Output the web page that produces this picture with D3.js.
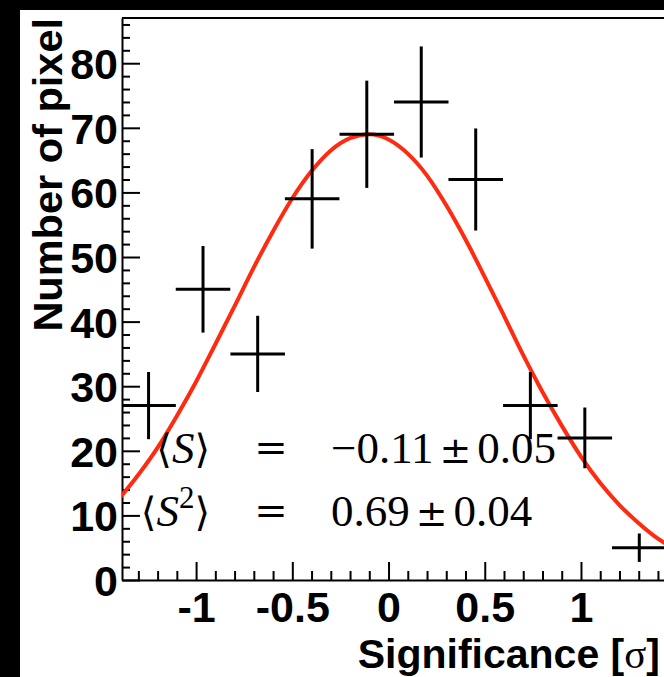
<!DOCTYPE html>
<html>
<head>
<meta charset="utf-8">
<script src="https://cdn.jsdelivr.net/npm/d3@7"></script>
<style>
	html, body { margin: 0; padding: 0; background: #000; }
	svg { display: block; }
</style>
</head>
<body>
<div id="chart"></div>
<script>
	// histogram bins (centres, half width), counts and errors
	var binCentres = [-1.247, -0.964, -0.680, -0.397, -0.113, 0.170, 0.453, 0.737, 1.020, 1.303];
	var binHalfWidth = 0.1417;
	var counts = [27, 45, 35, 59, 69, 74, 62, 27, 22, 5];
	var countErrors = [5.2, 6.7, 5.9, 7.7, 8.3, 8.6, 7.9, 5.2, 4.7, 2.2];

	// fitted curve
	var curveX = [-1.4, -1.3, -1.2, -1.1, -1.0, -0.9, -0.8, -0.7, -0.6, -0.5, -0.4, -0.3, -0.2, -0.1,
		0.0, 0.1, 0.2, 0.3, 0.4, 0.5, 0.6, 0.7, 0.8, 0.9, 1.0, 1.1, 1.2, 1.3, 1.4, 1.5];
	var curveY = [12.6, 16.3, 20.5, 25.4, 30.7, 36.5, 42.4, 48.4, 54.0, 59.1, 63.3, 66.5, 68.4, 69.0,
		68.2, 66.0, 62.6, 58.0, 52.7, 46.9, 40.9, 34.8, 29.1, 23.9, 19.1, 15.0, 11.6, 8.8, 6.4, 4.6];

	var xMajorTicks = [-1, -0.5, 0, 0.5, 1];
	var xTickLabels = ["-1", "-0.5", "0", "0.5", "1"];
	var yMajorTicks = [0, 10, 20, 30, 40, 50, 60, 70, 80];

	// fit results printed on the plot
	var fitRows = [
		{ name: "S", power: null, value: "−0.11", error: "0.05" },
		{ name: "S", power: "2", value: "0.69", error: "0.04" }
	];

	var width = 664, height = 677;
	var plot = { left: 122, top: 18, right: 667, bottom: 580 };

	var svg = d3.select("#chart").append("svg")
		.attr("width", width)
		.attr("height", height);

	// white pad on the black canvas
	svg.append("rect")
		.attr("x", 20).attr("y", 10)
		.attr("width", width - 20).attr("height", height - 10)
		.attr("fill", "#fff");

	var x = d3.scaleLinear().domain([-1.385, 1.447]).range([plot.left, plot.right]);
	var y = d3.scaleLinear().domain([0, 87]).range([plot.bottom, plot.top]);

	svg.append("clipPath").attr("id", "clip")
		.append("rect")
		.attr("x", plot.left).attr("y", plot.top)
		.attr("width", plot.right - plot.left).attr("height", plot.bottom - plot.top);

	var labelFont = "'Liberation Sans', Arial, Helvetica, sans-serif";
	var mathFont = "'Liberation Serif', 'DejaVu Serif', serif";

	// minor ticks
	var xMinor = d3.range(-13, 15).map(function(d) { return d / 10; })
		.filter(function(d) { return Math.abs(d * 2 - Math.round(d * 2)) > 1e-6; });
	var yMinor = d3.range(0, 88, 2).filter(function(d) { return d % 10 !== 0; });

	svg.append("g")
		.attr("transform", "translate(0," + plot.bottom + ")")
		.call(d3.axisBottom(x).tickValues(xMinor).tickSize(-9).tickFormat(""))
		.call(function(g) { g.select(".domain").remove(); });

	svg.append("g")
		.attr("transform", "translate(" + plot.left + ",0)")
		.call(d3.axisLeft(y).tickValues(yMinor).tickSize(-8).tickFormat(""))
		.call(function(g) { g.select(".domain").remove(); });

	var xAxis = svg.append("g")
		.attr("class", "x-axis")
		.attr("transform", "translate(0," + plot.bottom + ")")
		.call(d3.axisBottom(x).tickValues(xMajorTicks).tickSize(-18).tickSizeOuter(0)
			.tickFormat(function(d, i) { return xTickLabels[i]; }));

	xAxis.selectAll("text")
		.attr("y", 42)
		.attr("dy", 0)
		.style("font-family", labelFont)
		.style("font-weight", "bold")
		.style("font-size", "43px")
		.attr("fill", "#000");

	var yAxis = svg.append("g")
		.attr("class", "y-axis")
		.attr("transform", "translate(" + plot.left + ",0)")
		.call(d3.axisLeft(y).tickValues(yMajorTicks).tickSize(-18).tickSizeOuter(0));

	yAxis.selectAll("text")
		.attr("x", -4)
		.attr("dy", "0.36em")
		.style("font-family", labelFont)
		.style("font-weight", "bold")
		.style("font-size", "43px")
		.attr("fill", "#000");

	svg.selectAll(".tick line").attr("stroke", "#000").attr("stroke-width", 2);
	svg.selectAll(".domain").attr("stroke", "#000").attr("stroke-width", 2);

	// top frame line
	svg.append("line")
		.attr("x1", plot.left).attr("x2", plot.right)
		.attr("y1", plot.top).attr("y2", plot.top)
		.attr("stroke", "#000").attr("stroke-width", 2);

	// axis titles
	svg.append("text")
		.attr("transform", "translate(62," + plot.top + ") rotate(-90)")
		.attr("text-anchor", "end")
		.style("font-family", labelFont)
		.style("font-weight", "bold")
		.style("font-size", "41.5px")
		.text("Number of pixel");

	var xTitle = svg.append("text")
		.attr("x", 660).attr("y", 668)
		.attr("text-anchor", "end")
		.style("font-family", labelFont)
		.style("font-weight", "bold")
		.style("font-size", "41px");
	xTitle.append("tspan").text("Significance [");
	xTitle.append("tspan").style("font-family", mathFont)
		.style("font-weight", "normal").text("σ");
	xTitle.append("tspan").text("]");

	var inner = svg.append("g").attr("clip-path", "url(#clip)");

	// fit curve
	var line = d3.line()
		.x(function(d, i) { return x(curveX[i]); })
		.y(function(d) { return y(d); })
		.curve(d3.curveMonotoneX);

	inner.append("path")
		.datum(curveY)
		.attr("d", line)
		.attr("fill", "none")
		.attr("stroke", "#ff2a10")
		.attr("stroke-width", 4);

	// data crosses
	var points = inner.selectAll(".point")
		.data(counts)
		.enter().append("g")
		.attr("class", "point");

	points.append("line")
		.attr("x1", function(d, i) { return x(binCentres[i] - binHalfWidth); })
		.attr("x2", function(d, i) { return x(binCentres[i] + binHalfWidth); })
		.attr("y1", function(d) { return y(d); })
		.attr("y2", function(d) { return y(d); })
		.attr("stroke", "#000").attr("stroke-width", 3);

	points.append("line")
		.attr("x1", function(d, i) { return x(binCentres[i]); })
		.attr("x2", function(d, i) { return x(binCentres[i]); })
		.attr("y1", function(d, i) { return y(d - countErrors[i]); })
		.attr("y2", function(d, i) { return y(d + countErrors[i]); })
		.attr("stroke", "#000").attr("stroke-width", 3);

	// formula text, one row per fit result
	var rowBase = [463, 526];

	fitRows.forEach(function(r, k) {
		var base = rowBase[k];
		var t = svg.append("text")
			.attr("x", 210).attr("y", base)
			.attr("text-anchor", "end")
			.style("font-family", mathFont)
			.style("font-size", "45px");
		t.append("tspan").style("font-family", "'DejaVu Serif', serif").style("font-size", "40px").text("⟨");
		t.append("tspan").style("font-style", "italic").text(r.name);
		if (r.power) {
			t.append("tspan").attr("dy", -18).style("font-size", "31px").text(r.power);
			t.append("tspan").attr("dy", 18).style("font-family", "'DejaVu Serif', serif").style("font-size", "40px").text("⟩");
		} else {
			t.append("tspan").style("font-family", "'DejaVu Serif', serif").style("font-size", "40px").text("⟩");
		}

		svg.append("text")
			.attr("x", 271).attr("y", base - 2)
			.attr("text-anchor", "middle")
			.style("font-family", "'DejaVu Serif', serif")
			.style("font-size", "40px")
			.text("=");

		var v = svg.append("text")
			.attr("x", 331).attr("y", base)
			.style("font-family", mathFont)
			.style("font-size", "45px");
		v.append("tspan").text(r.value);
		v.append("tspan").attr("dx", 6).style("font-family", "'DejaVu Serif', serif")
			.style("font-size", "38px").text("±");
		v.append("tspan").attr("dx", 6).text(r.error);
	});
</script>
</body>
</html>
